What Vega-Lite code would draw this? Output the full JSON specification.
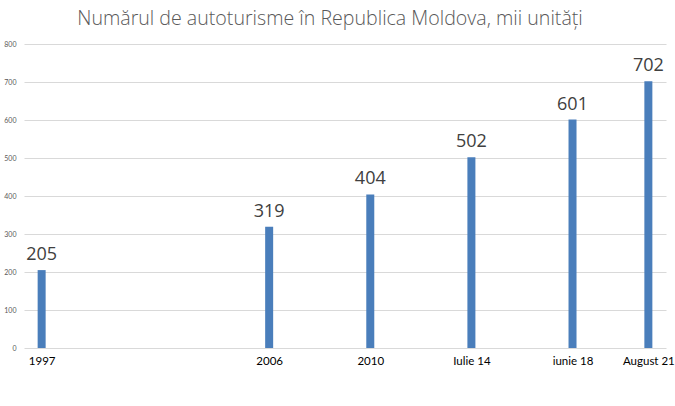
{
  "$schema": "https://vega.github.io/schema/vega-lite/v6.json",
  "autosize": "none",
  "width": 642,
  "height": 304,
  "padding": {"left": 24, "top": 44, "right": 9, "bottom": 58},
  "background": "white",
  "title": {
    "text": "Numărul de autoturisme în Republica Moldova, mii unități",
    "font": "Open Sans",
    "fontSize": 19.6,
    "fontWeight": 300,
    "color": "#595959",
    "anchor": "middle",
    "dx": -15,
    "offset": 10
  },
  "config": {
    "view": {"stroke": null},
    "font": "Lato"
  },
  "data": {
    "values": [
      {"year": 1997, "label": "1997", "value": 205},
      {"year": 2006, "label": "2006", "value": 319},
      {"year": 2010, "label": "2010", "value": 404},
      {"year": 2014, "label": "Iulie 14", "value": 502},
      {"year": 2018, "label": "iunie 18", "value": 601},
      {"year": 2021, "label": "August 21", "value": 702}
    ]
  },
  "encoding": {
    "x": {
      "field": "year",
      "type": "quantitative",
      "scale": {"domain": [1996.5, 2021.5], "nice": false, "zero": false},
      "axis": {
        "title": null,
        "values": [1997, 2006, 2010, 2014, 2018, 2021],
        "labelExpr": "datum.value == 2014 ? 'Iulie 14' : datum.value == 2018 ? 'iunie 18' : datum.value == 2021 ? 'August 21' : datum.value + ''",
        "grid": false,
        "ticks": false,
        "domain": false,
        "labelFont": "Lato",
        "labelFontSize": 11.5,
        "labelColor": "#000000",
        "labelPadding": 7,
        "labelFlush": false
      }
    },
    "y": {
      "field": "value",
      "type": "quantitative",
      "scale": {"domain": [0, 800], "nice": false},
      "axis": {
        "title": null,
        "values": [0, 100, 200, 300, 400, 500, 600, 700, 800],
        "grid": true,
        "gridColor": "#d9d9d9",
        "gridWidth": 1,
        "ticks": false,
        "domain": false,
        "labelFont": "Lato",
        "labelFontSize": 7,
        "labelColor": "#595959",
        "labelPadding": 8
      }
    }
  },
  "layer": [
    {
      "mark": {"type": "bar", "size": 8, "color": "#4a7ebb"}
    },
    {
      "mark": {"type": "text", "baseline": "bottom", "dy": -6, "fontSize": 18, "color": "#404040", "font": "Open Sans"},
      "encoding": {"text": {"field": "value", "type": "quantitative"}}
    }
  ]
}
